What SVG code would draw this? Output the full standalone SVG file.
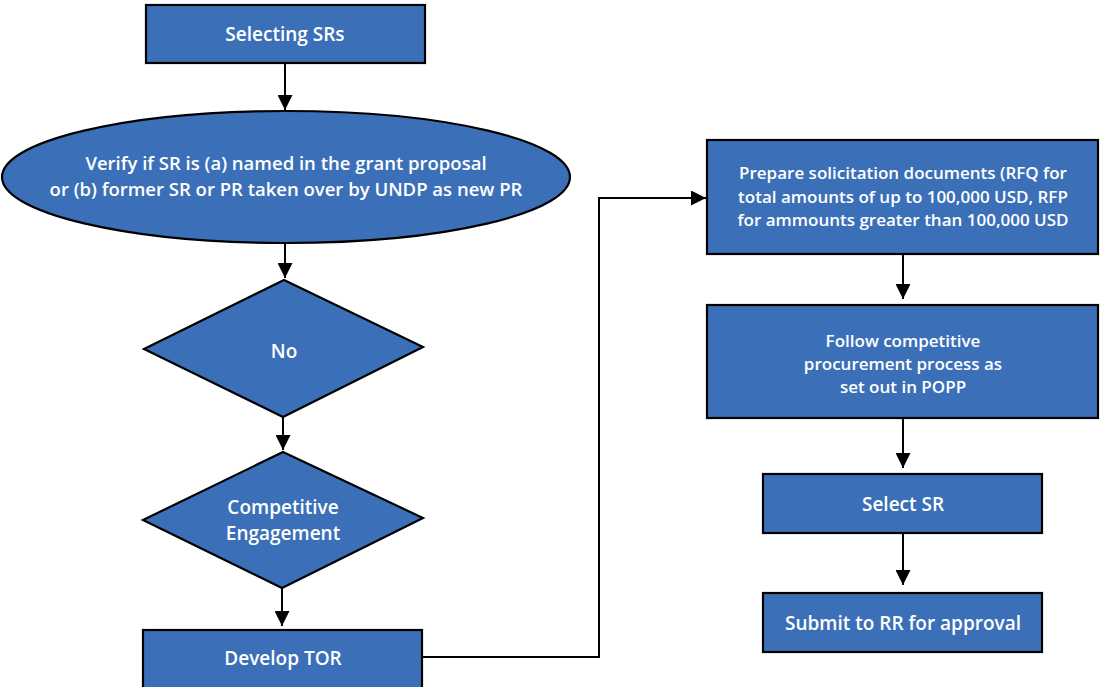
<svg xmlns="http://www.w3.org/2000/svg" width="1100" height="687" viewBox="0 0 1100 687">
<defs>
<marker id="arr" viewBox="0 0 10 10" refX="10" refY="5" markerWidth="15" markerHeight="15" markerUnits="userSpaceOnUse" orient="auto">
<path d="M0,0 L10,5 L0,10 Z" fill="#000"/>
</marker>
<style>
.n{fill:#3b70b9;stroke:#000;stroke-width:2.2}
.t{fill:#fff;font-family:"Open Sans","Noto Sans",sans-serif;font-weight:600;text-anchor:middle}
.l{font-size:19px}
.m{font-size:17px}
.e{font-size:18.5px}
.c{fill:none;stroke:#000;stroke-width:2}
</style>
</defs>
<rect width="1100" height="687" fill="#fff"/>
<g id="connectors">
<path class="c" d="M285,63 V110" marker-end="url(#arr)"/>
<path class="c" d="M285,243 V278" marker-end="url(#arr)"/>
<path class="c" d="M283,417 V450" marker-end="url(#arr)"/>
<path class="c" d="M282,588 V626" marker-end="url(#arr)"/>
<path class="c" d="M422,657 H599 V198 H706" marker-end="url(#arr)"/>
<path class="c" d="M903,254 V299" marker-end="url(#arr)"/>
<path class="c" d="M903,418 V468" marker-end="url(#arr)"/>
<path class="c" d="M903,533 V585" marker-end="url(#arr)"/>
</g>
<g id="n1">
<rect class="n" x="146" y="5" width="279" height="58"/>
<text class="t l" x="285" y="41">Selecting SRs</text>
</g>
<g id="n2">
<ellipse class="n" cx="286" cy="177" rx="284" ry="66"/>
<text class="t e" x="286" y="170">Verify if SR is (a) named in the grant proposal</text>
<text class="t e" x="286" y="196">or (b) former SR or PR taken over by UNDP as new PR</text>
</g>
<g id="n3">
<polygon class="n" points="284,280 423,347 283,417 144,349"/>
<text class="t l" x="284" y="358">No</text>
</g>
<g id="n4">
<polygon class="n" points="283,452 423,518 282,588 143,520"/>
<text class="t l" x="283" y="514">Competitive</text>
<text class="t l" x="283" y="540">Engagement</text>
</g>
<g id="n5">
<rect class="n" x="143" y="630" width="279" height="62"/>
<text class="t l" x="283" y="665">Develop TOR</text>
</g>
<g id="n6">
<rect class="n" x="707" y="140" width="391" height="114"/>
<text class="t m" x="903" y="179">Prepare solicitation documents (RFQ for</text>
<text class="t m" x="903" y="203">total amounts of up to 100,000 USD, RFP</text>
<text class="t m" x="903" y="226">for ammounts greater than 100,000 USD</text>
</g>
<g id="n7">
<rect class="n" x="707" y="305" width="391" height="113"/>
<text class="t m" x="903" y="347">Follow competitive</text>
<text class="t m" x="903" y="370">procurement process as</text>
<text class="t m" x="903" y="393">set out in POPP</text>
</g>
<g id="n8">
<rect class="n" x="763" y="474" width="279" height="59"/>
<text class="t l" x="903" y="511">Select SR</text>
</g>
<g id="n9">
<rect class="n" x="763" y="593" width="279" height="59"/>
<text class="t l" x="903" y="630">Submit to RR for approval</text>
</g>
</svg>
